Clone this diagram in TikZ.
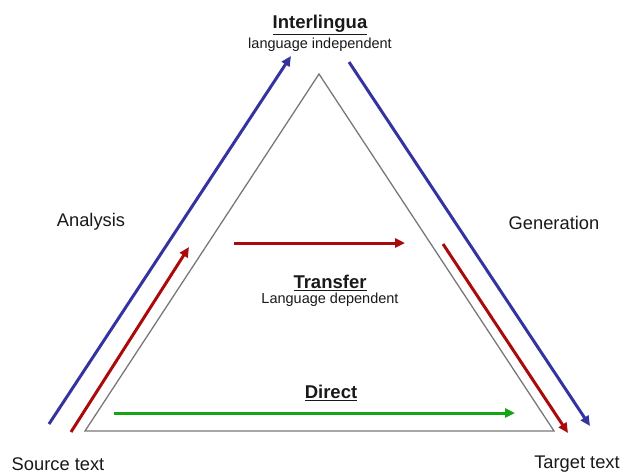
\documentclass[tikz,border=0pt]{standalone}
\usepackage{fontspec}
\setmainfont{Liberation Sans}
\usetikzlibrary{arrows.meta}
\definecolor{ablue}{RGB}{52,52,160}
\definecolor{ared}{RGB}{170,10,10}
\definecolor{agreen}{RGB}{20,165,20}
\definecolor{tri}{RGB}{120,120,120}
\definecolor{ink}{RGB}{25,25,25}
\begin{document}
\begin{tikzpicture}[x=1pt,y=-1pt,
  flow/.style={line width=3pt,-{Triangle[length=10pt,width=9pt]}},
  title/.style={font=\fontsize{18.5}{20}\selectfont\bfseries,text=ink,inner sep=0pt},
  sub/.style={font=\fontsize{14.5}{16}\selectfont,text=ink,inner sep=0pt},
  lbl/.style={font=\fontsize{18.3}{20}\selectfont,text=ink,inner sep=0pt}]
\useasboundingbox (0,0) rectangle (623,474);
% the central triangle
\coordinate (apex) at (319,74);
\coordinate (bl) at (85,431);
\coordinate (br) at (554,431);
\draw[tri,line width=1.3pt] (apex) -- (bl) -- (br) -- cycle;
% labels
\node[title] (inter) at (320,25) {\underline{Interlingua}};
\node[sub] (indep) at (320,45) {language independent};
\node[lbl] (ana) at (91,222) {Analysis};
\node[lbl] (gen) at (554,223) {Generation};
\node[title] (transfer) at (330,283) {\underline{Transfer}};
\node[sub] (dep) at (330,300) {Language dependent};
\node[title] (direct) at (331,393) {\underline{Direct}};
\node[lbl] (src) at (58,464) {Source text};
\node[lbl] (tgt) at (577,464) {Target text};
% arrow end points
\coordinate (b1) at (49,424);
\coordinate (b2) at (291,56);
\coordinate (b3) at (349,62);
\coordinate (b4) at (590,426);
\coordinate (r1) at (71,432);
\coordinate (r2) at (189,247);
\coordinate (r3) at (234,243);
\coordinate (r4) at (405,243);
\coordinate (r5) at (443,244);
\coordinate (r6) at (568,433);
\coordinate (g1) at (114,413);
\coordinate (g2) at (515,413);
% arrows
\draw[flow,ablue] (b1) -- (b2);
\draw[flow,ablue] (b3) -- (b4);
\draw[flow,ared] (r1) -- (r2);
\draw[flow,ared] (r3) -- (r4);
\draw[flow,ared] (r5) -- (r6);
\draw[flow,agreen] (g1) -- (g2);
\end{tikzpicture}
\end{document}
